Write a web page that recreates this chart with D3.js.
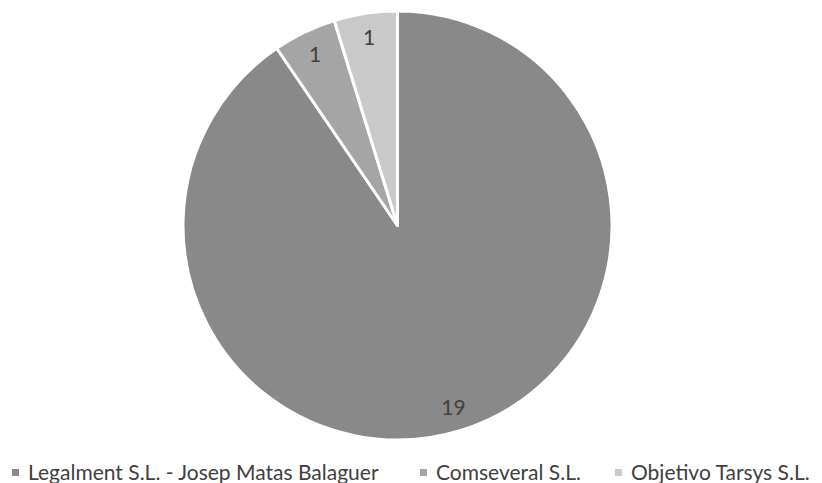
<!DOCTYPE html>
<html>
<head>
<meta charset="utf-8">
<script src="https://cdn.jsdelivr.net/npm/d3@7"></script>
<style>
  html, body { margin: 0; padding: 0; background: #fff; }
  svg { display: block; }
  text { font-family: Lato, "Open Sans", sans-serif; fill: #404040; }
</style>
</head>
<body>
<svg id="chart" width="822" height="483"></svg>
<script>
const categories = ["Legalment S.L. - Josep Matas Balaguer", "Comseveral S.L.", "Objetivo Tarsys S.L."];
const values = [19, 1, 1];
const colors = ["#898989", "#a5a5a5", "#c9c9c9"];

const W = 822, H = 483;
const cx = 397.5, cy = 225.5, R = 214.5, labelR = 190;

const svg = d3.select("#chart");
const data = categories.map((c, i) => ({ name: c, value: values[i], color: colors[i] }));

const pie = d3.pie().value(d => d.value).sort(null);
const arcs = pie(data);
const arc = d3.arc().innerRadius(0).outerRadius(R);
const labelArc = d3.arc().innerRadius(labelR).outerRadius(labelR);

const g = svg.append("g").attr("transform", `translate(${cx},${cy})`);
g.selectAll("path.slice")
  .data(arcs)
  .join("path")
  .attr("class", "slice")
  .attr("d", arc)
  .attr("fill", d => d.data.color)
  .attr("stroke", "#fff")
  .attr("stroke-width", 3)
  .attr("stroke-linejoin", "round");

g.selectAll("text.lbl")
  .data(arcs)
  .join("text")
  .attr("class", "lbl")
  .attr("transform", d => `translate(${labelArc.centroid(d)})`)
  .attr("text-anchor", "middle")
  .attr("dy", "0.36em")
  .style("font-size", "21px")
  .text(d => d.data.value);

// legend
const legendX = [12, 420, 615];
const legend = svg.append("g").attr("class", "legend");
const items = legend.selectAll("g.item")
  .data(data)
  .join("g")
  .attr("class", "item")
  .attr("transform", (d, i) => `translate(${legendX[i]},0)`);
items.append("rect")
  .attr("x", 0).attr("y", 469)
  .attr("width", 7).attr("height", 7)
  .attr("fill", d => d.color);
items.append("text")
  .attr("x", 16).attr("y", 480)
  .style("font-size", "21px")
  .text(d => d.name);
</script>
</body>
</html>
